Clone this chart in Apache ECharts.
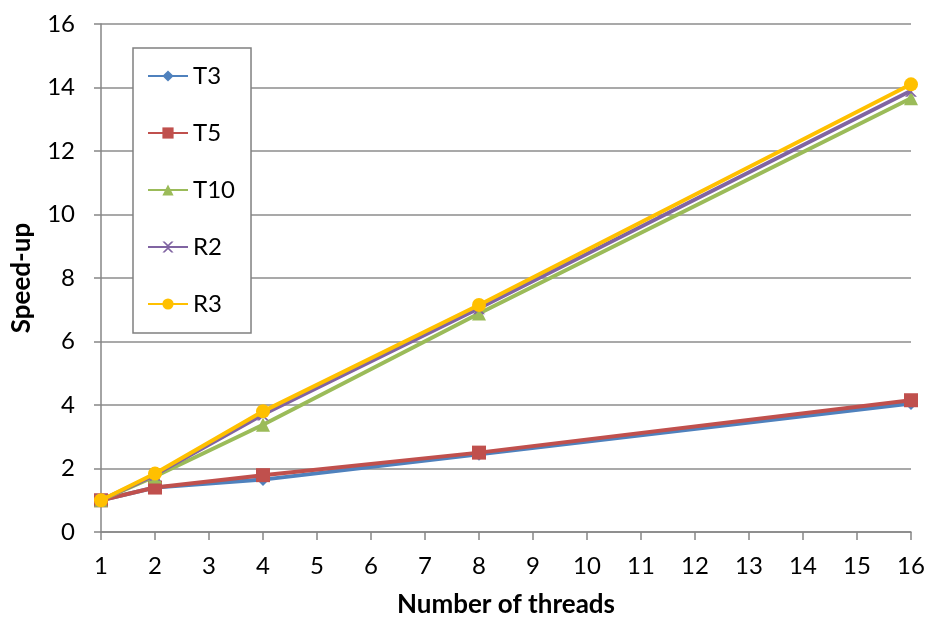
<!DOCTYPE html>
<html>
<head>
<meta charset="utf-8">
<script src="https://cdn.jsdelivr.net/npm/echarts@6/dist/echarts.min.js"></script>
<style>
  html, body { margin: 0; padding: 0; background: #fff; }
  #chart { width: 930px; height: 623px; }
</style>
</head>
<body>
<div id="chart"></div>
<script>
// Thread counts measured
const threads = [1, 2, 4, 8, 16];

// Speed-up per configuration
const T3  = [1.0, 1.40, 1.65, 2.45, 4.05];
const T5  = [1.0, 1.40, 1.79, 2.50, 4.15];
const T10 = [1.0, 1.75, 3.38, 6.88, 13.66];
const R2  = [1.0, 1.80, 3.70, 7.05, 13.90];
const R3  = [1.0, 1.84, 3.80, 7.15, 14.10];

const seriesNames = ['T3', 'T5', 'T10', 'R2', 'R3'];
const seriesData = [T3, T5, T10, R2, R3];
const colors = ['#4F81BD', '#C0504D', '#9BBB59', '#8064A2', '#FFC000'];
const crossPath = 'path://M0,0 L2,0 L5,3 L8,0 L10,0 L6,4 L6,6 L10,10 L8,10 L5,7 L2,10 L0,10 L4,6 L4,4 Z';
const symbols = ['diamond', 'rect', 'triangle', crossPath, 'circle'];
const symbolSizes = [13, 14, 14, 12, 14];

const FONT = 'Lato, "Open Sans", sans-serif';

const chart = echarts.init(document.getElementById('chart'), null, { renderer: 'canvas' });

chart.setOption({
  animation: false,
  backgroundColor: '#ffffff',
  color: colors,
  grid: { left: 101, right: 19, top: 24, bottom: 90, containLabel: false },
  legend: {
    orient: 'vertical',
    left: 133,
    top: 48,
    padding: [16, 16, 17, 14],
    itemGap: 33,
    itemWidth: 40,
    itemHeight: 14,
    backgroundColor: '#ffffff',
    borderColor: '#808080',
    borderWidth: 1.5,
    textStyle: { fontFamily: FONT, fontSize: 24, color: '#000' },
    data: seriesNames
  },
  xAxis: {
    type: 'value',
    min: 1,
    max: 16,
    interval: 1,
    name: 'Number of threads',
    nameLocation: 'middle',
    nameGap: 60,
    nameTextStyle: { fontFamily: FONT, fontSize: 26, fontWeight: 'bold', color: '#000' },
    axisLine: { show: true, onZero: false, lineStyle: { color: '#868686', width: 1.5 } },
    axisTick: { show: true, inside: false, length: 8, lineStyle: { color: '#868686', width: 1.5 } },
    axisLabel: { fontFamily: FONT, fontSize: 24, color: '#000', margin: 22 },
    splitLine: { show: false }
  },
  yAxis: {
    type: 'value',
    min: 0,
    max: 16,
    interval: 2,
    name: 'Speed-up',
    nameLocation: 'middle',
    nameGap: 66,
    nameRotate: 90,
    nameTextStyle: { fontFamily: FONT, fontSize: 26, fontWeight: 'bold', color: '#000' },
    axisLine: { show: true, lineStyle: { color: '#868686', width: 1.5 } },
    axisTick: { show: true, inside: false, length: 7, lineStyle: { color: '#868686', width: 1.5 } },
    axisLabel: { fontFamily: FONT, fontSize: 24, color: '#000', margin: 26 },
    splitLine: { show: true, lineStyle: { color: '#8c8c8c', width: 1.5 } }
  },
  series: seriesNames.map((name, i) => ({
    name: name,
    type: 'line',
    data: threads.map((t, j) => [t, seriesData[i][j]]),
    symbol: symbols[i],
    symbolSize: symbolSizes[i],
    showAllSymbol: true,
    lineStyle: { width: 4, color: colors[i] },
    itemStyle: { color: colors[i], borderColor: colors[i], borderWidth: 0 },
    z: 2 + i
  }))
});
</script>
</body>
</html>
